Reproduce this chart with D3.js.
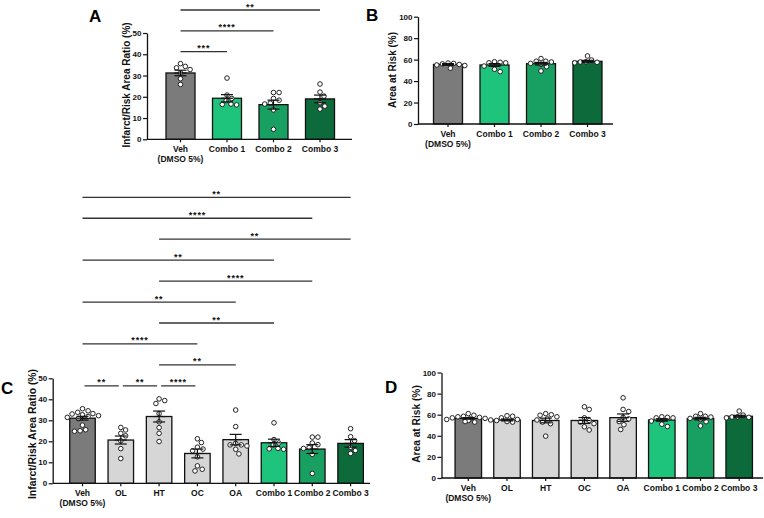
<!DOCTYPE html>
<html>
<head>
<meta charset="utf-8">
<script src="https://cdn.jsdelivr.net/npm/d3@7"></script>
<style>
  body { margin: 0; background: #fff; }
  svg { font-family: "Liberation Sans", Arial, sans-serif; }
</style>
</head>
<body>
<svg id="fig" width="764" height="518"></svg>
<script>
// ---- data ----
const shortCats = ["Veh\n(DMSO 5%)", "Combo 1", "Combo 2", "Combo 3"];
const longCats = ["Veh\n(DMSO 5%)", "OL", "HT", "OC", "OA", "Combo 1", "Combo 2", "Combo 3"];

// A: infarct / risk area ratio (%)
const aMeans = [31.2, 19.3, 16.3, 19.0];
const aSem = [1.3, 1.7, 2.1, 1.8];
const aPoints = [
  [35.6, 34.3, 33.6, 32.8, 31.2, 28.5, 25.8],
  [28.8, 20.8, 19.2, 18.2, 16.4, 16.2, 16.6],
  [22, 22, 19.2, 18.4, 17, 16.6, 13.8, 4.7],
  [26, 22.2, 20.3, 17.2, 15.6, 14.2]
];

// B: area at risk (%)
const bMeans = [55.5, 55.0, 56.2, 58.4];
const bSem = [0.8, 1.3, 1.2, 0.9];
const bPoints = [
  [56.8, 56.5, 56, 55.5, 55, 54.5, 52],
  [58, 57.5, 57, 57, 54, 51, 48.8],
  [61, 58.5, 58.5, 57.8, 56.5, 55.6, 53.4, 49.4],
  [63.4, 59.6, 58, 57.8, 57.5, 57]
];

// C: infarct / risk area ratio (%), all groups
const cMeans = [31.0, 20.6, 31.8, 14.2, 20.8, 19.3, 16.3, 19.0];
const cSem = [0.9, 1.9, 2.6, 2.1, 2.5, 1.7, 2.1, 1.8];
const cPoints = [
  [35.5, 34.5, 33.8, 33.2, 33, 32.6, 32.2, 31.8, 31.4, 30.8, 27.7, 25.5, 25, 24.8],
  [26.6, 25.4, 23.8, 22.6, 20.2, 16.5, 11.8],
  [40.2, 39.4, 38, 33.2, 29.3, 26.5, 23.8, 19.9],
  [21.2, 19.4, 17.2, 16.3, 15.5, 12.6, 8.3, 6.7, 5.9],
  [34.9, 27, 19, 18.3, 18.3, 17.8, 16.2, 14],
  [28.8, 20.8, 19.2, 18.2, 16.4, 16.2, 16.6],
  [22, 22, 19.2, 18.4, 17, 16.6, 13.8, 4.7],
  [26, 22.2, 20.3, 17.2, 15.6, 14.2]
];

// D: area at risk (%), all groups
const dMeans = [56.5, 55.0, 54.5, 54.5, 57.2, 55.0, 56.3, 58.5];
const dSem = [0.7, 0.9, 2.2, 2.8, 3.5, 1.2, 1.2, 0.9];
const dPoints = [
  [61, 59.5, 58.5, 58, 57.5, 57, 56.5, 56, 55.5, 55, 54.5, 53.5, 53],
  [59, 58.5, 57, 55.5, 54.5, 53.5, 53],
  [61, 60, 59.5, 58, 56, 55, 53, 51.5, 39.7],
  [67.5, 65, 57, 54.5, 53, 51.5, 48.5, 45.5],
  [76, 65, 63, 57.5, 56, 53.5, 50.5, 46],
  [58, 57.5, 57, 57, 54, 51, 48.8],
  [61, 58.5, 58.5, 57.8, 56.5, 55.6, 53.4, 49.4],
  [63.4, 59.6, 58, 57.8, 57.5, 57]
];

// significance brackets: [from, to, label]
const aSig = [[0, 3, "**"], [0, 2, "****"], [0, 1, "***"]];
const cSig = [
  [0, 7, "**"], [0, 6, "****"], [2, 7, "**"], [0, 5, "**"], [2, 6, "****"],
  [0, 4, "**"], [2, 5, "**"], [0, 3, "****"], [2, 4, "**"]
];
const cSigLow = [[0, 1, "**"], [1, 2, "**"], [2, 3, "****"]];

// colours per group
const colorOf = {
  "Veh\n(DMSO 5%)": "#7b7b7b",
  "OL": "#d6d6d6", "HT": "#d6d6d6", "OC": "#d6d6d6", "OA": "#d6d6d6",
  "Combo 1": "#1fc47c", "Combo 2": "#17a061", "Combo 3": "#0c6a3b"
};

const svg = d3.select("#fig");

// deterministic swarm: spread points sideways only when they collide
function swarm(vals, yScale, r) {
  const placed = [];
  const dx = new Array(vals.length).fill(0);
  const order = vals.map((v, i) => i).sort((a, b) => vals[b] - vals[a]);
  const minD = 2 * r + 0.8;
  order.forEach(i => {
    const py = yScale(vals[i]);
    for (let k = 0; k < 60; k++) {
      const off = (k % 2 ? 1 : -1) * Math.ceil(k / 2) * 0.8;
      const ok = placed.every(p => Math.hypot(p.x - off, p.y - py) >= minD);
      if (ok) { dx[i] = off; placed.push({ x: off, y: py }); break; }
    }
  });
  return dx;
}

function drawBracket(g, x1, x2, yy, lab) {
  g.append("line")
    .attr("x1", x1).attr("x2", x2)
    .attr("y1", yy).attr("y2", yy)
    .attr("stroke", "#333").attr("stroke-width", 1.3);
  g.append("text")
    .attr("x", (x1 + x2) / 2).attr("y", yy - 0.5)
    .attr("text-anchor", "middle")
    .attr("font-size", 9).attr("font-weight", "bold")
    .attr("letter-spacing", 0.8)
    .attr("fill", "#111")
    .text(lab);
}

function drawPanel(cfg) {
  const g = svg.append("g");
  const n = cfg.cats.length;

  const y = d3.scaleLinear().domain([0, cfg.yMax]).range([cfg.yBottom, cfg.yTop]);
  const pad = 1 - cfg.barW / cfg.step;
  const x = d3.scaleBand()
    .domain(d3.range(n))
    .range([cfg.c0 - cfg.step / 2, cfg.c0 - cfg.step / 2 + n * cfg.step])
    .paddingInner(pad)
    .paddingOuter(pad / 2);
  const cx = i => x(i) + x.bandwidth() / 2;

  // bars
  g.selectAll("rect.bar")
    .data(cfg.means)
    .join("rect")
    .attr("class", "bar")
    .attr("x", (d, i) => x(i))
    .attr("width", x.bandwidth())
    .attr("y", d => y(d))
    .attr("height", d => cfg.yBottom - y(d))
    .attr("fill", (d, i) => colorOf[cfg.cats[i]])
    .attr("stroke", "#111")
    .attr("stroke-width", 1.3);

  // points
  const r = 2.3;
  cfg.points.forEach((vals, i) => {
    const offs = swarm(vals, y, r);
    g.selectAll(null)
      .data(vals)
      .join("circle")
      .attr("cx", (d, j) => cx(i) + offs[j])
      .attr("cy", d => y(d))
      .attr("r", r)
      .attr("fill", "#fff")
      .attr("stroke", "#222")
      .attr("stroke-width", 1);
  });

  // error bars (mean +/- SEM)
  const cap = 6;
  cfg.means.forEach((m, i) => {
    const s = cfg.sems[i];
    const eg = g.append("g").attr("stroke", "#111").attr("stroke-width", 1.2);
    eg.append("line").attr("x1", cx(i)).attr("x2", cx(i)).attr("y1", y(m - s)).attr("y2", y(m + s));
    eg.append("line").attr("x1", cx(i) - cap).attr("x2", cx(i) + cap).attr("y1", y(m + s)).attr("y2", y(m + s));
    eg.append("line").attr("x1", cx(i) - cap).attr("x2", cx(i) + cap).attr("y1", y(m - s)).attr("y2", y(m - s));
    eg.append("line").attr("x1", cx(i) - cap).attr("x2", cx(i) + cap).attr("y1", y(m)).attr("y2", y(m));
  });

  // y axis
  const yAxisG = g.append("g")
    .attr("transform", `translate(${cfg.yAxisX},0)`)
    .call(d3.axisLeft(y).tickValues(d3.range(0, cfg.yMax + 1, cfg.yTick)).tickSize(4).tickPadding(1.5).tickSizeOuter(0));
  yAxisG.select(".domain").attr("stroke", "#111").attr("stroke-width", 1.3);
  yAxisG.selectAll(".tick line").attr("stroke", "#111").attr("stroke-width", 1.2);
  yAxisG.selectAll(".tick text")
    .attr("font-family", "Liberation Sans, Arial, sans-serif")
    .attr("font-size", 8).attr("font-weight", "bold").attr("fill", "#111");

  // x axis
  const xAxisG = g.append("g")
    .attr("transform", `translate(0,${cfg.yBottom})`)
    .call(d3.axisBottom(x).tickSize(3).tickSizeOuter(0).tickFormat(""));
  xAxisG.select(".domain").remove();
  xAxisG.selectAll(".tick line").attr("stroke", "#111").attr("stroke-width", 1.2);
  xAxisG.append("line")
    .attr("x1", cfg.yAxisX).attr("x2", cfg.xEnd)
    .attr("stroke", "#111").attr("stroke-width", 1.3);
  xAxisG.selectAll(".tick").each(function (d) {
    const lines = cfg.cats[d].split("\n");
    const t = d3.select(this).append("text")
      .attr("text-anchor", "middle")
      .attr("font-family", "Liberation Sans, Arial, sans-serif")
      .attr("font-size", 8.5).attr("font-weight", "bold").attr("fill", "#111");
    lines.forEach((ln, k) => {
      t.append("tspan").attr("x", 0).attr("y", 13 + k * 10).text(ln);
    });
  });

  // y title
  g.append("text")
    .attr("transform", `translate(${cfg.titleX},${cfg.titleY}) rotate(-90)`)
    .attr("text-anchor", "middle")
    .attr("font-size", cfg.titleSize)
    .attr("font-weight", "bold")
    .attr("fill", "#111")
    .text(cfg.title);

  // panel letter
  g.append("text")
    .attr("x", cfg.letterX).attr("y", cfg.letterY)
    .attr("font-size", 17).attr("font-weight", "bold").attr("fill", "#000")
    .text(cfg.letter);

  // brackets
  (cfg.sig || []).forEach(([a, b, lab], k) => {
    drawBracket(g, cx(a), cx(b), cfg.sigTop + k * cfg.sigStep, lab);
  });
  (cfg.sigLow || []).forEach(([a, b, lab]) => {
    drawBracket(g, cx(a) + 2, cx(b) - 2, cfg.sigLowY, lab);
  });
}

// ---- panels ----
drawPanel({
  cats: shortCats, means: aMeans, sems: aSem, points: aPoints,
  yMax: 50, yTick: 10, yTop: 33, yBottom: 139.3,
  yAxisX: 147, xEnd: 352, c0: 180.5, step: 46.5, barW: 29,
  title: "Infarct/Risk Area Ratio (%)", titleX: 129.5, titleY: 85, titleSize: 10,
  letter: "A", letterX: 89, letterY: 22,
  sig: aSig, sigTop: 10, sigStep: 20.85
});

drawPanel({
  cats: shortCats, means: bMeans, sems: bSem, points: bPoints,
  yMax: 100, yTick: 20, yTop: 16.7, yBottom: 124,
  yAxisX: 418, xEnd: 613, c0: 448, step: 46.5, barW: 29,
  title: "Area at Risk (%)", titleX: 395.5, titleY: 70, titleSize: 10,
  letter: "B", letterX: 366, letterY: 21
});

drawPanel({
  cats: longCats, means: cMeans, sems: cSem, points: cPoints,
  yMax: 50, yTick: 10, yTop: 378.3, yBottom: 483.3,
  yAxisX: 52.7, xEnd: 370, c0: 82.5, step: 38.3, barW: 25.5,
  title: "Infarct/Risk Area Ratio (%)", titleX: 36, titleY: 434, titleSize: 10.4,
  letter: "C", letterX: 1, letterY: 394,
  sig: cSig, sigTop: 197.3, sigStep: 20.95,
  sigLow: cSigLow, sigLowY: 385.9
});

drawPanel({
  cats: longCats, means: dMeans, sems: dSem, points: dPoints,
  yMax: 100, yTick: 20, yTop: 372.5, yBottom: 478,
  yAxisX: 441.5, xEnd: 763, c0: 468.3, step: 38.7, barW: 26.5,
  title: "Area at Risk (%)", titleX: 419.5, titleY: 424, titleSize: 10.2,
  letter: "D", letterX: 385, letterY: 393
});
</script>
</body>
</html>
